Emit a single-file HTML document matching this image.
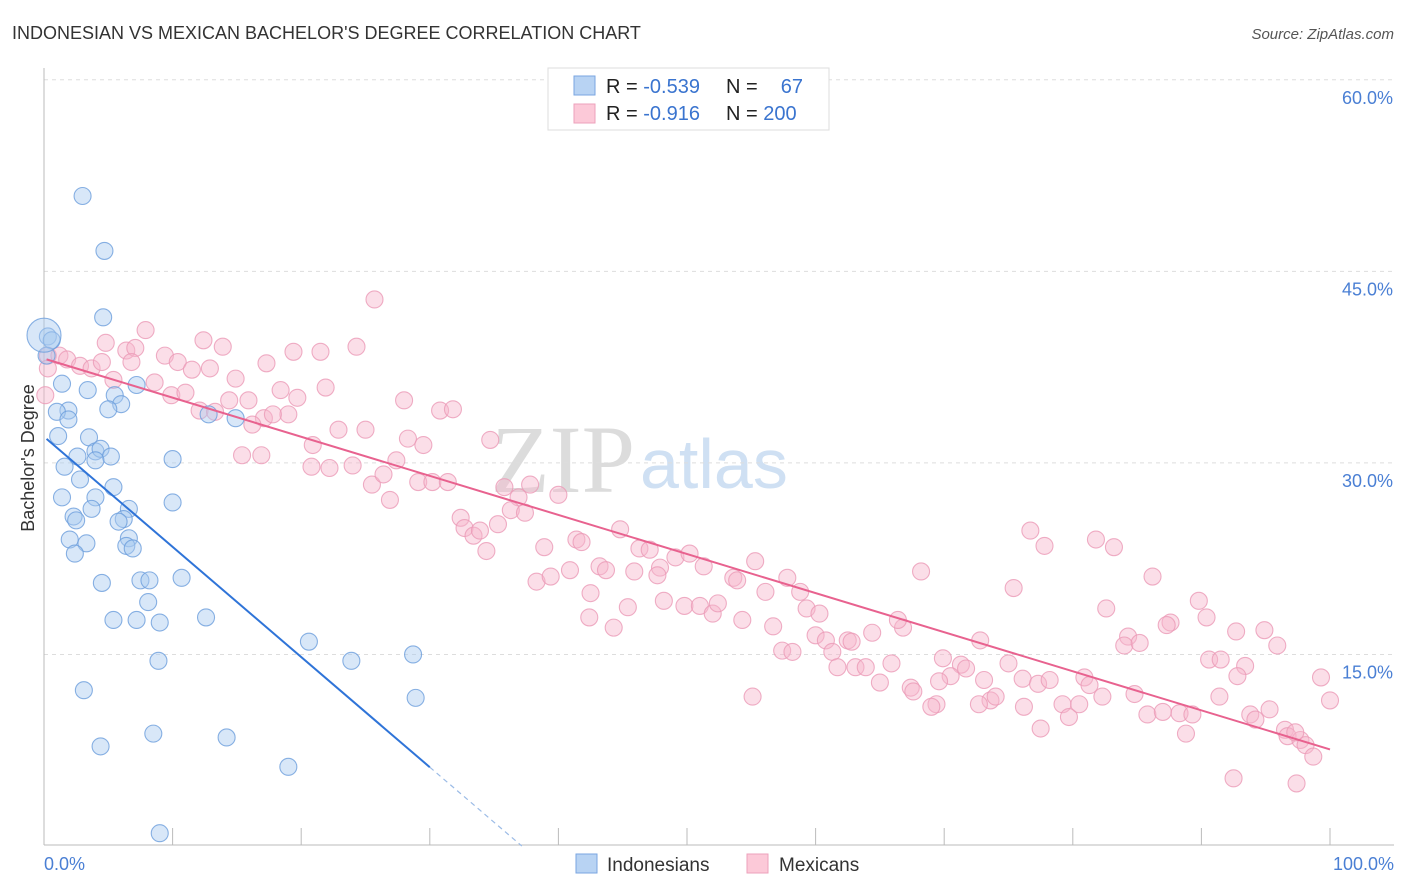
<!DOCTYPE html>
<html><head><meta charset="utf-8">
<style>
body{margin:0;background:#fff;font-family:"Liberation Sans",sans-serif;}
#wrap{position:relative;width:1406px;height:892px;overflow:hidden;}
</style></head>
<body>
<div id="wrap">
<svg id="svg" width="1406" height="892" xmlns="http://www.w3.org/2000/svg">
<text x="12" y="39" font-size="18" fill="#333">INDONESIAN VS MEXICAN BACHELOR'S DEGREE CORRELATION CHART</text>
<text x="1394" y="39" font-size="15" fill="#555" font-style="italic" text-anchor="end">Source: ZipAtlas.com</text>
<text x="635" y="492" font-size="96" fill="#dcdcdc" font-family="Liberation Serif,serif" text-anchor="end">ZIP</text>
<text x="640" y="488" font-size="70" fill="#cfe0f3" text-anchor="start">atlas</text>
<g id="grid"></g><g id="ticks"></g><g id="pts"></g><g id="lines"></g>
<text x="0" y="0" transform="translate(34,458) rotate(-90)" font-size="18" fill="#333" text-anchor="middle">Bachelor's Degree</text>
<text x="44" y="870" font-size="18" fill="#4a7fd4">0.0%</text>
<text x="1394" y="870" font-size="18" fill="#4a7fd4" text-anchor="end">100.0%</text>
<g>
<rect x="548" y="68" width="281" height="62" fill="#fff" stroke="#ddd"/>
<rect x="574" y="76" width="21" height="19" fill="#b8d3f3" stroke="#7aa6e0"/>
<rect x="574" y="104" width="21" height="19" fill="#fcc9d8" stroke="#eda1bb"/>
<text x="606" y="93" font-size="20" fill="#222">R = <tspan fill="#3a74cf">-0.539</tspan></text>
<text x="726" y="93" font-size="20" fill="#222">N =</text>
<text x="803" y="93" font-size="20" fill="#3a74cf" text-anchor="end">67</text>
<text x="606" y="120" font-size="20" fill="#222">R =  <tspan fill="#3a74cf">-0.916</tspan></text>
<text x="726" y="120" font-size="20" fill="#222">N = <tspan fill="#3a74cf">200</tspan></text>
</g>
<g>
<rect x="576" y="854" width="21" height="19" fill="#b8d3f3" stroke="#7aa6e0"/>
<text x="607" y="871" font-size="19" fill="#333">Indonesians</text>
<rect x="747" y="854" width="21" height="19" fill="#fcc9d8" stroke="#eda1bb"/>
<text x="779" y="871" font-size="19" fill="#333">Mexicans</text>
</g>
</svg>
</div>
<script>
const yTicks=[15,30,45,60];
const yTickLabels=["15.0%","30.0%","45.0%","60.0%"];
const xTicks=[0,10,20,30,40,50,60,70,80,90,100];
const blueX=[3.0,4.7,4.6,0.3,0.6,0.2,1.4,3.4,7.2,5.5,6.0,5.0,1.9,1.0,1.9,1.1,3.5,4.0,4.4,2.6,5.2,4.0,10.0,1.6,2.8,5.4,4.0,1.4,10.0,3.7,6.6,2.3,2.5,6.2,5.8,2.0,3.3,6.6,6.4,6.9,2.4,10.7,4.5,7.5,8.2,8.1,12.6,5.4,7.2,9.0,20.6,28.7,23.9,8.9,3.1,28.9,8.5,14.2,4.4,19.0,9.0,12.8,14.9,0.0];
const blueY=[50.9,46.6,41.4,39.9,39.6,38.4,36.2,35.7,36.1,35.3,34.6,34.2,34.1,34.0,33.4,32.1,32.0,30.9,31.1,30.5,30.5,30.2,30.3,29.7,28.7,28.1,27.3,27.3,26.9,26.4,26.4,25.8,25.5,25.6,25.4,24.0,23.7,24.1,23.5,23.3,22.9,21.0,20.6,20.8,20.8,19.1,17.9,17.7,17.7,17.5,16.0,15.0,14.5,14.5,12.2,11.6,8.8,8.5,7.8,6.2,1.0,33.8,33.5,40.0];
const pinkX=[25.7,7.9,12.4,13.9,4.8,6.4,7.1,0.3,1.2,1.8,2.8,3.7,4.5,6.8,9.4,10.4,11.5,12.9,14.9,17.3,21.5,19.4,24.3,5.4,8.6,9.9,11.0,12.1,13.3,14.4,15.9,17.1,18.4,19.7,21.9,28.0,19.0,17.8,22.9,20.9,25.0,16.2,28.3,29.5,30.8,31.8,34.7,15.4,16.9,20.8,22.2,24.0,25.5,27.4,26.4,29.1,30.2,31.4,26.9,35.8,36.9,37.8,40.0,36.3,37.4,32.4,32.7,33.4,33.9,35.3,34.4,38.9,41.4,41.8,44.8,46.3,47.1,49.1,50.2,51.3,53.6,53.9,55.3,56.1,57.8,58.8,47.9,38.3,39.4,40.9,43.2,43.7,45.9,47.7,48.2,49.8,51.0,52.0,52.4,54.3,56.7,59.3,60.3,45.4,42.5,42.4,44.3,60.0,60.8,62.5,62.8,64.4,66.8,66.4,68.2,69.9,71.3,71.7,72.8,73.1,75.0,73.6,76.1,76.7,77.8,81.8,83.2,75.4,86.2,82.6,89.8,90.4,87.6,87.3,84.3,84.0,85.2,92.7,94.9,95.9,90.6,91.5,93.4,92.8,55.1,57.4,58.2,61.3,61.7,63.1,63.9,65.0,65.9,67.4,67.6,69.4,69.0,70.5,72.7,74.0,76.2,77.3,78.2,79.2,79.7,80.5,80.9,81.3,82.3,84.8,85.8,87.0,88.3,89.3,88.8,91.4,93.8,94.2,95.3,96.5,96.7,97.7,98.1,98.7,99.3,100.0,97.3,92.5,97.4,69.6,77.5,0.3,0.1];
const pinkY=[42.8,40.4,39.6,39.1,39.4,38.8,39.0,38.4,38.4,38.1,37.6,37.4,37.9,37.9,38.4,37.9,37.3,37.4,36.6,37.8,38.7,38.7,39.1,36.5,36.3,35.3,35.5,34.1,34.0,34.9,34.9,33.5,35.7,35.1,35.9,34.9,33.8,33.8,32.6,31.4,32.6,33.0,31.9,31.4,34.1,34.2,31.8,30.6,30.6,29.7,29.6,29.8,28.3,30.2,29.1,28.5,28.5,28.5,27.1,28.1,27.3,28.3,27.5,26.3,26.1,25.7,24.9,24.3,24.7,25.2,23.1,23.4,24.0,23.8,24.8,23.3,23.2,22.6,22.9,21.9,21.0,20.8,22.3,19.9,21.0,19.9,21.8,20.7,21.1,21.6,21.9,21.6,21.5,21.2,19.2,18.8,18.8,18.2,19.0,17.7,17.2,18.6,18.2,18.7,19.8,17.9,17.1,16.5,16.1,16.1,16.0,16.7,17.1,17.7,21.5,14.7,14.2,13.9,16.1,13.0,14.3,11.4,13.1,24.7,23.5,24.0,23.4,20.2,21.1,18.6,19.2,17.9,17.5,17.3,16.4,15.7,15.9,16.8,16.9,15.7,14.6,14.6,14.1,13.3,11.7,15.3,15.2,15.2,14.0,14.0,14.0,12.8,14.3,12.4,12.1,11.1,10.9,13.3,11.1,11.7,10.9,12.7,13.0,11.1,10.1,11.1,13.2,12.6,11.7,11.9,10.3,10.5,10.4,10.3,8.8,11.7,10.3,9.9,10.7,9.1,8.6,8.3,7.9,7.0,13.2,11.4,8.9,5.3,4.9,12.9,9.2,37.4,35.3];

const NS="http://www.w3.org/2000/svg";
const X=v=>44+v*12.86, Y=v=>846-v*12.77;
function mk(tag,attrs,parent){const e=document.createElementNS(NS,tag);for(const k in attrs)e.setAttribute(k,attrs[k]);document.getElementById(parent).appendChild(e);return e;}
yTicks.forEach((t,i)=>{
  const g=mk('line',{x1:44,x2:1394,y1:Y(t),y2:Y(t),stroke:'#ddd','stroke-dasharray':'4,4'},'grid');
  
  
  const tx=mk('text',{x:1393,y:Y(t)+24,'font-size':18,fill:'#4a7fd4','text-anchor':'end'},'grid');
  tx.textContent=yTickLabels[i];
  
  
});
const ax=mk('line',{x1:44,x2:1394,y1:845,y2:845,stroke:'#bbb'},'ticks');


const ay=mk('line',{x1:44,x2:44,y1:68,y2:845,stroke:'#bbb'},'ticks');


xTicks.forEach(t=>{
  const l=mk('line',{x1:X(t),x2:X(t),y1:828,y2:845,stroke:'#bbb'},'ticks');
  
  
});
function dots(xs,ys,fill,stroke,name){
  xs.forEach((x,i)=>{
    const big=(name==='indonesian-point'&&i===xs.length-1);
    const c=mk('circle',{cx:X(x),cy:Y(ys[i]),r:big?17:8.5,fill:fill,'fill-opacity':0.45,stroke:stroke,'stroke-opacity':0.8,'stroke-width':1.1},'pts');
    
    
  });
}
dots(pinkX,pinkY,'#f7b6cb','#eb9ab6','mexican-point');
dots(blueX,blueY,'#a9c9ef','#6c9edc','indonesian-point');
function fit(xs,ys){const n=xs.length;let mx=0,my=0;xs.forEach((x,i)=>{mx+=x;my+=ys[i];});mx/=n;my/=n;let sxy=0,sxx=0;xs.forEach((x,i)=>{sxy+=(x-mx)*(ys[i]-my);sxx+=(x-mx)**2;});const b=sxy/sxx;return [my-b*mx,b];}
const [ba,bb]=fit(blueX,blueY);
const bz=-ba/bb;
let l=mk('line',{x1:X(0.2),y1:Y(ba+bb*0.2),x2:X(30),y2:Y(ba+bb*30),stroke:'#2f74d8','stroke-width':2},'lines');


l=mk('line',{x1:X(30),y1:Y(ba+bb*30),x2:X(bz),y2:Y(0),stroke:'#9bbbe6','stroke-width':1.2,'stroke-dasharray':'5,4'},'lines');


const [pa,pb]=fit(pinkX,pinkY);
l=mk('line',{x1:X(0.2),y1:Y(pa+pb*0.2),x2:X(100),y2:Y(pa+pb*100),stroke:'#e8628f','stroke-width':2},'lines');


</script>
</body></html>
